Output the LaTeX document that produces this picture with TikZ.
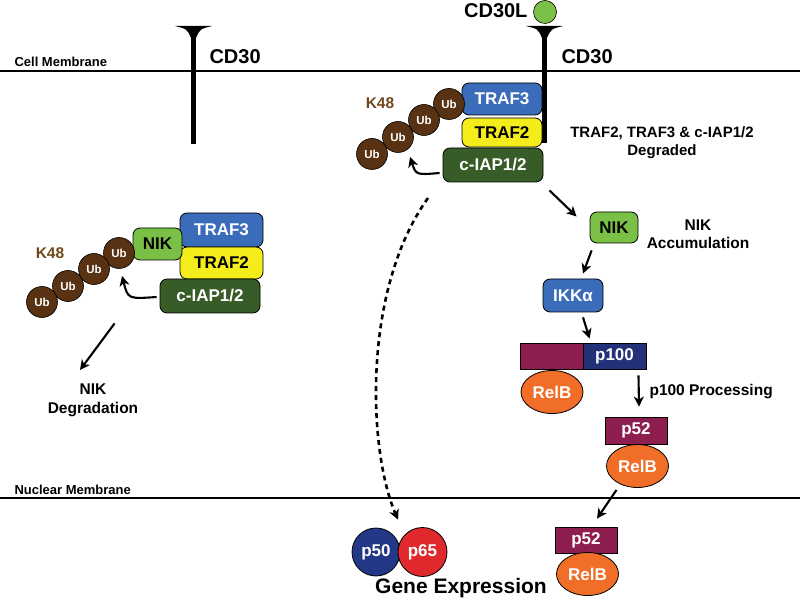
\documentclass[tikz,border=0pt]{standalone}
\usepackage{fontspec}
\setmainfont{Liberation Sans}
\usetikzlibrary{arrows.meta,shapes.geometric}

\definecolor{trafblue}{RGB}{58,108,185}
\definecolor{trafyellow}{RGB}{245,236,28}
\definecolor{iapgreen}{RGB}{55,92,40}
\definecolor{nikgreen}{RGB}{122,192,70}
\definecolor{ubbrown}{RGB}{88,50,18}
\definecolor{kbrown}{RGB}{112,72,28}
\definecolor{pmaroon}{RGB}{143,30,80}
\definecolor{pnavy}{RGB}{35,50,120}
\definecolor{relborange}{RGB}{240,110,40}
\definecolor{pfiftyblue}{RGB}{35,55,135}
\definecolor{psixtyred}{RGB}{225,40,45}

\begin{document}
\begin{tikzpicture}[x=1pt,y=-1pt,
    box/.style={draw=black,line width=0.8pt,rounded corners=7pt,inner sep=0pt,
      text=white,font=\fontsize{17}{17}\selectfont\bfseries},
    bar/.style={draw=black,line width=0.8pt,inner sep=0pt,text=white,
      font=\fontsize{17}{17}\selectfont\bfseries},
    oval/.style={ellipse,draw=black,line width=0.8pt,fill=relborange,inner sep=0pt,
      minimum width=62,minimum height=43,text=white,font=\fontsize{17}{17}\selectfont\bfseries},
    ub/.style={circle,draw=black,line width=0.6pt,fill=ubbrown,minimum size=31,
      inner sep=0pt,text=white,font=\fontsize{11.5}{11.5}\selectfont\bfseries},
    arr/.style={line width=2.1pt,-{Stealth[length=10pt,width=10pt,inset=3pt]}},
    lbl/.style={align=center,font=\fontsize{15.5}{18}\selectfont\bfseries}]
  \useasboundingbox (0,0) rectangle (800,601);

  % Membranes
  \draw[line width=2pt] (0,71) -- (800,71);
  \draw[line width=2.5pt] (0,498) -- (800,498);
  \node[anchor=west,font=\fontsize{13}{13}\selectfont\bfseries] (cellmem) at (11,62) {Cell Membrane};
  \node[anchor=west,font=\fontsize{13}{13}\selectfont\bfseries] (nucmem) at (11,490) {Nuclear Membrane};

  % Receptors
  \fill (175,26) -- (212,26) .. controls (200,29) .. (196,38) -- (191,38) .. controls (187,29) .. cycle;
  \fill (190.5,36) rectangle (196,144);
  \fill (526,26) -- (563,26) .. controls (551,29) .. (547,38) -- (542,38) .. controls (538,29) .. cycle;
  \fill (541.5,36) rectangle (547,143);
  \node[anchor=west,font=\fontsize{20}{20}\selectfont\bfseries] (cdleft) at (206,57) {CD30};
  \node[anchor=west,font=\fontsize{20}{20}\selectfont\bfseries] (cdright) at (558,57) {CD30};
  \node[circle,draw=black,line width=0.6pt,fill=nikgreen,minimum size=23,inner sep=0pt] (ligand) at (545,12) {};
  \node[anchor=east,font=\fontsize{20}{20}\selectfont\bfseries] (cdl) at (531,11) {CD30L};

  % Complex at the receptor
  \node[box,fill=trafblue,minimum width=80,minimum height=32] (traftr) at (502,99) {TRAF3};
  \node[box,fill=trafyellow,text=black,minimum width=80,minimum height=29] (traftwor) at (502,132.5) {TRAF2};
  \node[box,fill=iapgreen,minimum width=100,minimum height=34] (ciapr) at (493,165) {c-IAP1/2};
  \node[ub] (ubra) at (449,104) {Ub};
  \node[ub] (ubrb) at (424,120) {Ub};
  \node[ub] (ubrc) at (398,137) {Ub};
  \node[ub] (ubrd) at (372,154) {Ub};
  \node[lbl,text=kbrown] (kright) at (380,103) {K48};
  \draw[arr] ([shift={(-3,8)}]ciapr.west) .. controls (416,175) .. (410,157);
  \node[lbl,font=\fontsize{15}{18}\selectfont\bfseries] (degr) at (662,143) {TRAF2, TRAF3 \& c-IAP1/2\\Degraded};

  % Complex free in the cytoplasm
  \node[box,fill=trafblue,minimum width=83,minimum height=34] (traftl) at (221.5,230) {TRAF3};
  \node[box,fill=trafyellow,text=black,minimum width=83,minimum height=32] (traftwol) at (221.5,263) {TRAF2};
  \node[box,fill=iapgreen,minimum width=100,minimum height=34] (ciapl) at (210,296) {c-IAP1/2};
  \node[box,fill=nikgreen,text=black,minimum width=49,minimum height=32] (nikl) at (157.5,244) {NIK};
  \node[ub] (ubla) at (119,253) {Ub};
  \node[ub] (ublb) at (94,269) {Ub};
  \node[ub] (ublc) at (68,286) {Ub};
  \node[ub] (ubld) at (42,302) {Ub};
  \node[lbl,text=kbrown] (kleft) at (50,253) {K48};
  \draw[arr] ([shift={(-3,1)}]ciapl.west) .. controls (128,299) .. (122,276);
  \node[lbl,font=\fontsize{15.5}{19}\selectfont\bfseries] (nikdeg) at (93,400) {NIK\\Degradation};
  \draw[arr] ([shift={(-45,10)}]ciapl.south west) -- ([shift={(-13,-10)}]nikdeg.north);

  % NIK pathway
  \node[box,fill=nikgreen,text=black,minimum width=48,minimum height=31] (nikr) at (614,227.5) {NIK};
  \node[lbl] (nikacc) at (698,234) {NIK\\Accumulation};
  \node[box,fill=trafblue,minimum width=60,minimum height=33] (ikk) at (573,295.5) {IKKα};
  \node[bar,fill=pmaroon,minimum width=63,minimum height=26] (pcut) at (551.5,356) {};
  \node[bar,fill=pnavy,minimum width=63,minimum height=26] (phundred) at (614.5,356) {p100};
  \node[oval] (relba) at (552,392) {RelB};
  \node[bar,fill=pmaroon,minimum width=62,minimum height=27] (pfa) at (636,430.5) {p52};
  \node[oval] (relbb) at (637.5,466) {RelB};
  \node[lbl,anchor=west] (proc) at (646,392) {p100 Processing};
  \draw[arr] ([shift={(6,8)}]ciapr.south east) -- ([shift={(-13,-11)}]nikr.west);
  \draw[arr] ([shift={(2,7)}]nikr.south west) -- ([shift={(10,-5)}]ikk.north);
  \draw[arr] ([shift={(10,5)}]ikk.south) -- ([shift={(7,-4)}]phundred.north west);
  \draw[arr] ([shift={(24,6)}]phundred.south) -- ([shift={(3,-10)}]pfa.north);

  % Nucleus
  \node[bar,fill=pmaroon,minimum width=62,minimum height=26] (pfb) at (586,540) {p52};
  \node[oval] (relbc) at (587.5,574) {RelB};
  \draw[arr] ([shift={(-21,2)}]relbb.south) -- ([shift={(11,-8)}]pfb.north);
  \node[circle,draw=black,line width=0.8pt,fill=pfiftyblue,minimum size=48,inner sep=0pt,
    text=white,font=\fontsize{17}{17}\selectfont\bfseries] (pfifty) at (376,552) {p50};
  \node[circle,draw=black,line width=0.8pt,fill=psixtyred,minimum size=49,inner sep=0pt,
    text=white,font=\fontsize{17}{17}\selectfont\bfseries] (psixty) at (422.5,552) {p65};
  \node[font=\fontsize{21}{21}\selectfont\bfseries] (gene) at (461,588) {Gene Expression};
  \coordinate (dstart) at (428,198);
  \draw[arr,line width=2.6pt,dash pattern=on 5pt off 4pt] (dstart) .. controls (362,290) and (368,450) .. ([shift={(22,-8)}]pfifty.north);
\end{tikzpicture}
\end{document}
